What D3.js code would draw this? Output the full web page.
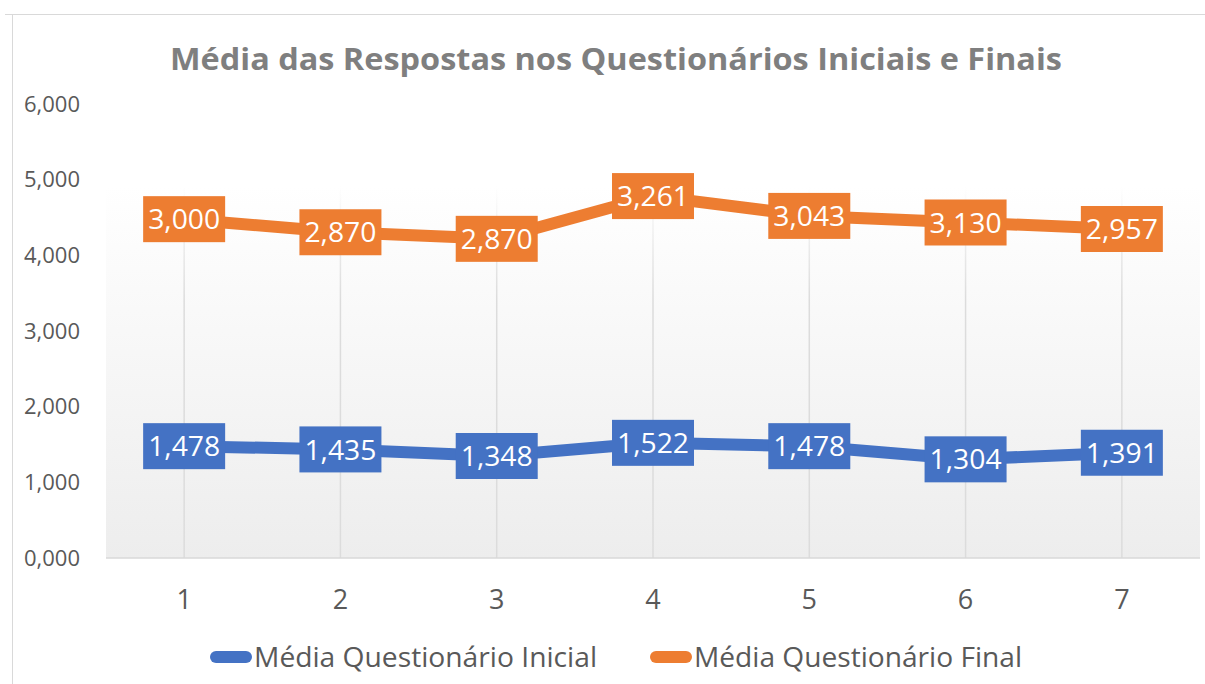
<!DOCTYPE html>
<html>
<head>
<meta charset="utf-8">
<script src="https://cdn.jsdelivr.net/npm/d3@7"></script>
<style>
  body { margin: 0; background: #fff; }
  svg { display: block; font-family: "Open Sans", "Noto Sans", sans-serif; }
</style>
</head>
<body>
<svg id="chart" width="1205" height="684"></svg>
<script>
const categories = ["1", "2", "3", "4", "5", "6", "7"];
const inicial = [1.478, 1.435, 1.348, 1.522, 1.478, 1.304, 1.391];
const final = [3.000, 2.870, 2.870, 3.261, 3.043, 3.130, 2.957];
const yTicks = [0, 1, 2, 3, 4, 5, 6];

const blue = "#4472c4", orange = "#ed7d31";
const fmt = v => v.toFixed(3).replace(".", ",");

const svg = d3.select("#chart");
const width = 1205, height = 684;
const margin = { top: 104, right: 5, bottom: 126, left: 106 };
const plotTop = 186; // shaded area starts a bit below the top tick

// outer frame
svg.append("path")
    .attr("d", "M5,14.5H1205M12.5,14V684")
    .attr("stroke", "#d9d9d9")
    .attr("fill", "none");

const x = d3.scaleBand()
    .domain(categories)
    .range([margin.left, width - margin.right]);

const y = d3.scaleLinear()
    .domain([0, 6])
    .range([height - margin.bottom, margin.top]);

const defs = svg.append("defs");

// plot background gradient
const grad = defs.append("linearGradient")
    .attr("id", "bg").attr("x1", 0).attr("x2", 0).attr("y1", 0).attr("y2", 1);
grad.append("stop").attr("offset", "0%").attr("stop-color", "#ffffff");
grad.append("stop").attr("offset", "100%").attr("stop-color", "#ededed");

// gridlines fade out towards the top
const gGrad = defs.append("linearGradient")
    .attr("id", "grid").attr("gradientUnits", "userSpaceOnUse")
    .attr("x1", 0).attr("x2", 0).attr("y1", plotTop).attr("y2", 300);
gGrad.append("stop").attr("offset", "0%").attr("stop-color", "#dcdcdc").attr("stop-opacity", 0);
gGrad.append("stop").attr("offset", "100%").attr("stop-color", "#dcdcdc").attr("stop-opacity", 1);

svg.append("rect")
    .attr("x", margin.left)
    .attr("y", plotTop)
    .attr("width", x.range()[1] - margin.left)
    .attr("height", y(0) - plotTop)
    .attr("fill", "url(#bg)");

// vertical gridlines
svg.append("g")
    .selectAll("rect")
    .data(categories)
    .join("rect")
    .attr("x", d => x(d) + x.bandwidth() / 2 - 0.75)
    .attr("width", 1.5)
    .attr("y", plotTop)
    .attr("height", y(0) - plotTop)
    .attr("fill", "url(#grid)");

// base line
svg.append("line")
    .attr("x1", margin.left).attr("x2", x.range()[1])
    .attr("y1", y(0)).attr("y2", y(0))
    .attr("stroke", "#d9d9d9").attr("stroke-width", 1.5);

// y axis
const yAxis = svg.append("g")
    .attr("transform", `translate(${margin.left},0)`)
    .call(d3.axisLeft(y).tickValues(yTicks).tickFormat(fmt).tickSize(0).tickPadding(26));
yAxis.select(".domain").remove();
yAxis.selectAll("text")
    .attr("font-size", 22)
    .attr("fill", "#595959")
    .attr("font-family", "Open Sans, sans-serif");

// x axis
const xAxis = svg.append("g")
    .attr("transform", `translate(0,${y(0)})`)
    .call(d3.axisBottom(x).tickSize(0).tickPadding(32));
xAxis.select(".domain").remove();
xAxis.selectAll("text")
    .attr("font-size", 27)
    .attr("fill", "#595959")
    .attr("font-family", "Open Sans, sans-serif");

// stacked series (final sits on top of inicial)
const series = [
    { name: "Média Questionário Inicial", color: blue, values: inicial, base: inicial.map(() => 0) },
    { name: "Média Questionário Final", color: orange, values: final, base: inicial }
];

const cx = (d, i) => x(categories[i]) + x.bandwidth() / 2;

series.forEach(s => {
    const pts = s.values.map((v, i) => [cx(v, i), y(v + s.base[i]), v]);
    svg.append("path")
        .datum(pts)
        .attr("d", d3.line())
        .attr("fill", "none")
        .attr("stroke", s.color)
        .attr("stroke-width", 12)
        .attr("stroke-linejoin", "round");

    const lab = svg.append("g").selectAll("g")
        .data(pts)
        .join("g")
        .attr("transform", d => `translate(${d[0]},${d[1]})`);
    lab.append("rect")
        .attr("x", -41).attr("y", -23)
        .attr("width", 82).attr("height", 46)
        .attr("fill", s.color);
    lab.append("text")
        .attr("text-anchor", "middle")
        .attr("dy", "0.36em")
        .attr("font-size", 28)
        .attr("fill", "#fff")
        .attr("textLength", 72)
        .attr("lengthAdjust", "spacingAndGlyphs")
        .text(d => fmt(d[2]));
});

// title
svg.append("text")
    .attr("x", 616)
    .attr("y", 70)
    .attr("text-anchor", "middle")
    .attr("font-size", 31)
    .attr("font-weight", "bold")
    .attr("fill", "#7f7f7f")
    .attr("textLength", 892)
    .attr("lengthAdjust", "spacingAndGlyphs")
    .text("Média das Respostas nos Questionários Iniciais e Finais");

// legend
const legendItems = [
    { s: series[0], x0: 210, tx: 254, tw: 343 },
    { s: series[1], x0: 650, tx: 694, tw: 328 }
];
legendItems.forEach(it => {
    svg.append("line")
        .attr("x1", it.x0 + 6).attr("x2", it.x0 + 36)
        .attr("y1", 657).attr("y2", 657)
        .attr("stroke", it.s.color)
        .attr("stroke-width", 12)
        .attr("stroke-linecap", "round");
    svg.append("text")
        .attr("x", it.tx)
        .attr("y", 667)
        .attr("font-size", 27)
        .attr("fill", "#595959")
        .attr("textLength", it.tw)
        .attr("lengthAdjust", "spacingAndGlyphs")
        .text(it.s.name);
});
</script>
</body>
</html>
